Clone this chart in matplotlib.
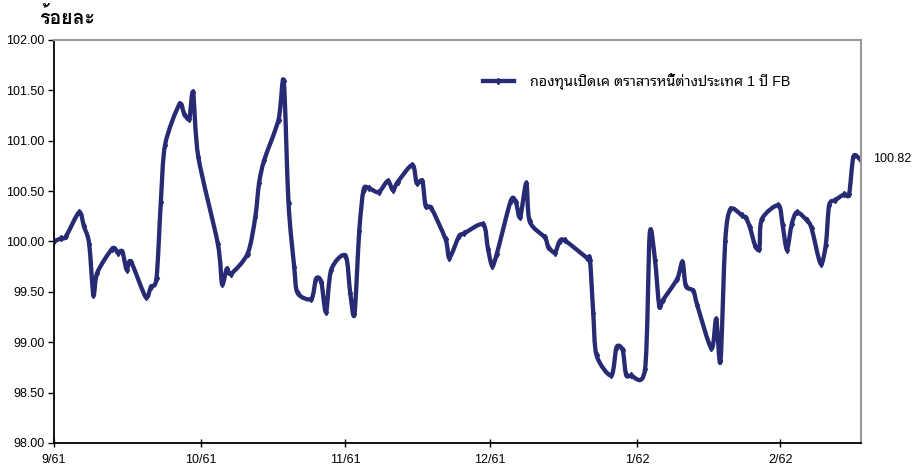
import matplotlib
matplotlib.use("Agg")
import matplotlib.pyplot as plt
from matplotlib import font_manager
from matplotlib.path import Path
from matplotlib.patches import PathPatch
from matplotlib.lines import Line2D

# day offsets from 1 Sep 2018 (9/61) and NAV values (percent)
days = [0.0, 1.4, 2.5, 5.3, 6.3, 7.4, 8.3, 9.1, 12.3, 13.4,
        14.4, 15.3, 16.2, 19.3, 20.4, 21.6, 22.5, 23.4, 26.4, 27.4,
        28.5, 29.3, 30.4, 34.5, 35.4, 36.4, 37.3, 40.8, 42.4, 43.2,
        44.3, 47.3, 48.4, 49.4, 50.6, 51.3, 54.2, 55.2, 56.3, 57.3,
        58.4, 61.4, 62.4, 63.3, 64.3, 65.2, 66.3, 68.4, 70.3, 71.4,
        72.4, 75.5, 76.4, 77.6, 78.3, 79.5, 82.5, 83.3, 85.3, 86.4,
        90.4, 91.4, 92.3, 93.3, 96.2, 97.3, 98.2, 99.5, 100.2, 103.4,
        104.1, 105.5, 106.5, 107.6, 112.2, 112.9, 113.6, 114.3, 117.4, 118.5,
        119.8, 120.5, 121.5, 124.5, 125.5, 126.6, 127.5, 128.3, 131.3, 132.4,
        133.1, 134.7, 135.5, 138.5, 139.5, 140.4, 141.4, 142.5, 144.9, 145.8,
        146.6, 147.7, 148.6, 149.1, 152.6, 153.5, 154.4, 155.4, 156.5, 158.6,
        159.6, 161.5, 162.6, 163.3, 164.6, 166.5, 167.5, 168.4, 169.7]
values = [100.00, 100.03, 100.05, 100.29, 100.15, 99.98, 99.47, 99.69, 99.93, 99.89,
          99.90, 99.72, 99.80, 99.45, 99.55, 99.64, 100.39, 100.96, 101.36, 101.27,
          101.22, 101.48, 100.84, 99.98, 99.58, 99.73, 99.68, 99.88, 100.24, 100.58,
          100.81, 101.21, 101.59, 100.38, 99.75, 99.49, 99.43, 99.63, 99.60, 99.30,
          99.72, 99.86, 99.49, 99.28, 100.10, 100.51, 100.53, 100.49, 100.60, 100.51,
          100.59, 100.76, 100.58, 100.60, 100.35, 100.33, 100.02, 99.84, 100.05, 100.08,
          100.17, 99.93, 99.76, 99.88, 100.40, 100.39, 100.24, 100.58, 100.20, 100.04,
          99.95, 99.89, 100.00, 100.01, 99.84, 99.82, 99.29, 98.87, 98.67, 98.95,
          98.92, 98.68, 98.67, 98.73, 100.08, 99.82, 99.36, 99.42, 99.63, 99.80,
          99.56, 99.51, 99.37, 98.94, 99.23, 98.81, 100.00, 100.32, 100.26, 100.23,
          100.14, 99.96, 99.93, 100.22, 100.36, 100.16, 99.92, 100.17, 100.29, 100.21,
          100.13, 99.78, 99.97, 100.36, 100.41, 100.47, 100.47, 100.84, 100.82]

month_pos = [0, 31.0, 61.4, 91.8, 122.8, 153.0]
month_labels = ["9/61", "10/61", "11/61", "12/61", "1/62", "2/62"]
y_ticks = [98.0, 98.5, 99.0, 99.5, 100.0, 100.5, 101.0, 101.5, 102.0]

series_name = "กองทุนเปิดเค ตราสารหนี้ต่างประเทศ 1 ปี FB"
y_title = "ร้อยละ"

LINE_COLOR = "#272B74"
LINE_W = 3.1
THAI = ["Liberation Sans", "Noto Sans Thai Looped"]

names = set(f.name for f in font_manager.fontManager.ttflist)
narrow = "Liberation Sans Narrow" if "Liberation Sans Narrow" in names else "Liberation Sans"
title_font = ["Loma"] if "Loma" in names else THAI

plt.rcParams["font.family"] = THAI


def smooth_path(xs, ys, k=7.0):
    # smoothed line like excel: cubic bezier through every point
    verts = [(xs[0], ys[0])]
    codes = [Path.MOVETO]
    n = len(xs)
    for i in range(n - 1):
        x0, y0 = xs[max(i - 1, 0)], ys[max(i - 1, 0)]
        x1, y1 = xs[i], ys[i]
        x2, y2 = xs[i + 1], ys[i + 1]
        x3, y3 = xs[min(i + 2, n - 1)], ys[min(i + 2, n - 1)]
        c1 = (x1 + (x2 - x0) / k, y1 + (y2 - y0) / k)
        c2 = (x2 - (x3 - x1) / k, y2 - (y3 - y1) / k)
        verts += [c1, c2, (x2, y2)]
        codes += [Path.CURVE4] * 3
    return Path(verts, codes)


fig = plt.figure(figsize=(9.17, 4.67), dpi=100)
ax = fig.add_axes([0.0589, 0.0514, 0.8800, 0.8630])

curve = PathPatch(smooth_path(days, values), facecolor="none",
                  edgecolor=LINE_COLOR, linewidth=LINE_W,
                  joinstyle="round", capstyle="round")
ax.add_patch(curve)
ax.plot(days, values, linestyle="none", marker="d", markersize=3.2,
        color=LINE_COLOR)

ax.set_xlim(0, 170.0)
ax.set_ylim(98, 102)
ax.set_yticks(y_ticks)
ax.set_yticklabels(["%.2f" % t for t in y_ticks], fontsize=9,
                   family="Liberation Sans")
ax.set_xticks(month_pos)
ax.set_xticklabels(month_labels, fontsize=9, family=narrow)

ax.tick_params(axis="y", direction="out", length=4, width=1, pad=3,
               colors="black")
ax.tick_params(axis="x", direction="inout", length=6, width=1, pad=5,
               colors="black")

for side in ["left", "bottom"]:
    ax.spines[side].set_color("black")
    ax.spines[side].set_linewidth(1.3)
for side in ["top", "right"]:
    ax.spines[side].set_color("#999999")
    ax.spines[side].set_linewidth(1.5)

# last value label
ax.annotate("%.2f" % values[-1], xy=(days[-1], values[-1]),
            xytext=(10, 0), textcoords="offset points",
            fontsize=9, va="center", ha="left", annotation_clip=False,
            family="Liberation Sans")

handle = Line2D([], [], color=LINE_COLOR, linewidth=LINE_W, marker="d",
                markersize=3.2)
ax.legend([handle], [series_name], loc="center left",
          bbox_to_anchor=(0.531, 0.896), frameon=False,
          fontsize=10.3, handlelength=2.2, handletextpad=1.1,
          borderpad=0, borderaxespad=0)

fig.text(0.043, 0.985, y_title, fontsize=14, fontweight="bold",
         ha="left", va="top", family=title_font)

fig.savefig("out.png", dpi=100)
